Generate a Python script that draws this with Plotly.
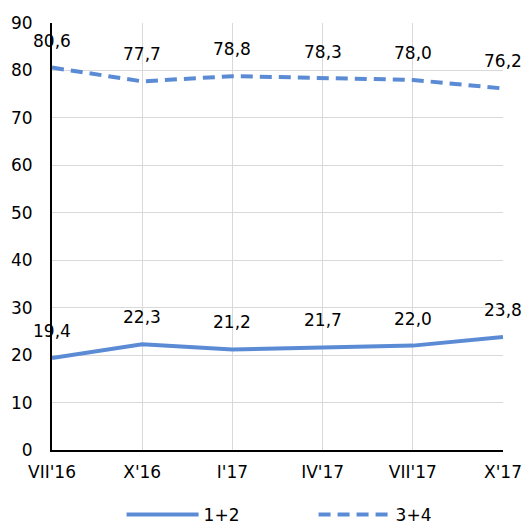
import plotly.graph_objects as go

categories = ["VII'16", "X'16", "I'17", "IV'17", "VII'17", "X'17"]
s12 = [19.4, 22.3, 21.2, 21.7, 22.0, 23.8]
s34 = [80.6, 77.7, 78.8, 78.3, 78.0, 76.2]
y_ticks = [0, 10, 20, 30, 40, 50, 60, 70, 80, 90]

color = "#5B8BD5"
font = "DejaVu Sans, sans-serif"
fs = 17
xs = list(range(len(categories)))

fig = go.Figure()
fig.add_trace(go.Scatter(x=xs, y=s12, mode="lines", name="1+2",
                         line=dict(color=color, width=4)))
fig.add_trace(go.Scatter(x=xs, y=s34, mode="lines", name="3+4",
                         line=dict(color=color, width=4, dash="12px,7px")))

anns = []
for vals in (s12, s34):
    for x, v in zip(xs, vals):
        anns.append(dict(x=x, y=v, text=f"{v:.1f}".replace(".", ","), showarrow=False,
                         yshift=27, font=dict(size=fs, color="#000", family=font)))

fig.update_layout(
    width=527, height=524,
    margin=dict(l=52, r=24, t=23, b=74, autoexpand=False),
    plot_bgcolor="white", paper_bgcolor="white",
    font=dict(family=font, size=fs, color="#000"),
    showlegend=True,
    legend=dict(orientation="h", x=0.58, xanchor="center", y=-0.152, yanchor="middle",
                itemwidth=72, font=dict(size=fs, family=font),
                entrywidth=105, entrywidthmode="pixels", bgcolor="rgba(0,0,0,0)"),
    annotations=anns,
    xaxis=dict(range=[0, 5], tickmode="array", tickvals=xs, ticktext=categories,
               showgrid=True, gridcolor="#d9d9d9", gridwidth=1,
               showline=True, linecolor="black", linewidth=2, zeroline=False,
               ticks="", ticklabelstandoff=6, tickfont=dict(size=fs)),
    yaxis=dict(range=[0, 90], tickmode="array", tickvals=y_ticks,
               showgrid=True, gridcolor="#d9d9d9", gridwidth=1,
               showline=True, linecolor="black", linewidth=2, zeroline=False,
               ticks="", ticklabelstandoff=14, tickfont=dict(size=fs)),
)
fig.write_html("out.html", config={"displayModeBar": False},
               post_script="document.body.style.margin='0';document.body.style.overflow='hidden';")
